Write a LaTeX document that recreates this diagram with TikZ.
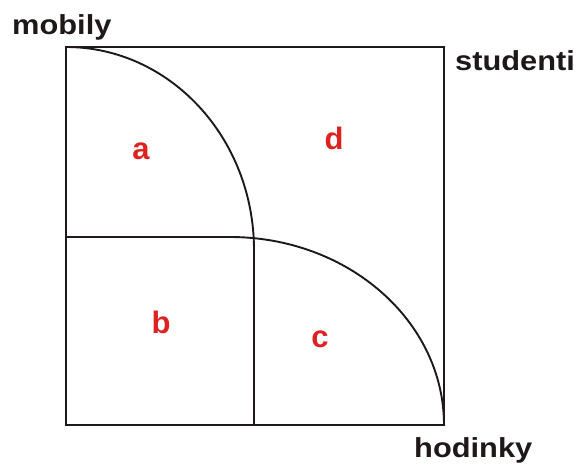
\documentclass[tikz,border=0pt]{standalone}
\usepackage{fontspec}
\setmainfont{Liberation Sans}
\newfontfamily\widefont[FakeStretch=1.12]{Liberation Sans}
\definecolor{lblred}{RGB}{221,34,34}
\begin{document}
\begin{tikzpicture}[x=1pt,y=-1pt,
  edge/.style={line width=1.9pt,draw={rgb,255:red,30;green,24;blue,24}},
  corner/.style={font=\widefont\fontsize{27.5}{32}\selectfont\bfseries,text={rgb,255:red,30;green,24;blue,24},inner sep=0pt,anchor=base west},
  region/.style={font=\fontsize{31}{35}\selectfont\bfseries,text=lblred,inner sep=0pt}]
\useasboundingbox (0,0) rectangle (579,465);
\coordinate (tl) at (66,47);
\coordinate (br) at (444,425);
\draw[edge] (tl) rectangle (br);
% mobily region
\draw[edge] (tl) .. controls (169.8,47) and (254,137.9) .. (254,250) -- (254,425);
% hodinky region
\draw[edge] (66,237) -- (230,237) .. controls (348.2,237) and (444,321.2) .. (br);
\node[corner] (mob) at (12,35) {mobily};
\node[corner] (stu) at (455,71) {studenti};
\node[corner] (hod) at (414,457) {hodinky};
\node[region] (a) at (141,151) {a};
\node[region] (d) at (334,138) {d};
\node[region] (b) at (161,322) {b};
\node[region] (c) at (320,339) {c};
\end{tikzpicture}
\end{document}
